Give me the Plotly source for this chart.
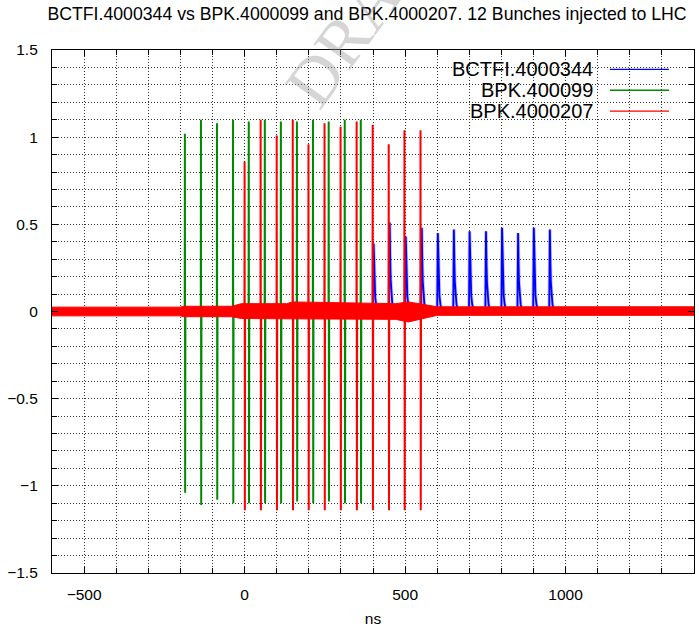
import plotly.graph_objects as go

# ---------------- data ----------------
# BPK.4000207 (red): bipolar spikes
red_t = [0, 50, 100, 150, 199, 249, 299, 349, 399, 449, 498, 548]
red_pos = [0.86, 1.10, 1.01, 1.10, 0.96, 1.08, 1.06, 1.09, 1.07, 0.96, 1.04, 1.04]
red_neg = [-1.14, -1.14, -1.14, -1.14, -1.14, -1.14, -1.14, -1.14, -1.14, -1.14, -1.14, -1.14]

# BPK.400099 (green): bipolar spikes
green_t = [-186, -136, -86, -36, 13, 63, 113, 163, 213, 262, 312, 362]
green_pos = [1.02, 1.10, 1.08, 1.10, 1.09, 1.10, 1.09, 1.09, 1.10, 1.09, 1.10, 1.10]
green_neg = [-1.04, -1.11, -1.08, -1.10, -1.10, -1.10, -1.10, -1.09, -1.10, -1.09, -1.10, -1.10]

# BCTFI.4000344 (blue): unipolar pulses
blue_t = [402, 452, 502, 552, 602, 652, 701, 752, 802, 852, 901, 951]
blue_peak = [0.38, 0.50, 0.42, 0.47, 0.44, 0.46, 0.45, 0.45, 0.47, 0.44, 0.47, 0.46]
# pulse outline (ns offset, fraction of peak)
pulse_dt = [-2, 0, 1.5, 3, 5, 8, 12]
pulse_frac = [0.0, 1.0, 0.6, 0.35, 0.18, 0.07, 0.0]

# noise band of the red trace around zero (upper / lower edge)
band_x = [-600, -200, -190, -40, -10, 130, 150, 400, 470, 510, 560, 600, 1400]
band_hi = [0.025, 0.025, 0.030, 0.030, 0.045, 0.045, 0.055, 0.050, 0.045, 0.055, 0.040, 0.027, 0.027]
band_lo = [-0.025, -0.025, -0.030, -0.030, -0.040, -0.042, -0.045, -0.045, -0.045, -0.060, -0.040, -0.022, -0.022]

x_range = [-600, 1400]
y_range = [-1.5, 1.5]

title_text = "BCTFI.4000344 vs BPK.4000099 and BPK.4000207. 12 Bunches injected to LHC"
legend_names = ["BCTFI.4000344", "BPK.400099", "BPK.4000207"]
legend_colors = ["#0000ff", "#008a00", "#ff0000"]

# ---------------- build traces ----------------
def spike_wave(times, pos, neg):
    xs, ys = [x_range[0]], [0.0]
    for t, p, n in zip(times, pos, neg):
        xs += [t - 0.5, t, t + 0.8, t + 1.6]
        ys += [0.0, p, n, 0.0]
    xs.append(x_range[1]); ys.append(0.0)
    return xs, ys

def pulse_wave(times, peaks, base=0.01):
    xs, ys = [x_range[0]], [base]
    for t, p in zip(times, peaks):
        for d, f in zip(pulse_dt, pulse_frac):
            xs.append(t + d)
            ys.append(base + f * p)
    xs.append(x_range[1]); ys.append(base)
    return xs, ys

bx, by = pulse_wave(blue_t, blue_peak)
gx, gy = spike_wave(green_t, green_pos, green_neg)
rx, ry = spike_wave(red_t, red_pos, red_neg)

fig = go.Figure()
fig.add_trace(go.Scatter(x=bx, y=by, mode="lines", line=dict(color="rgba(0,0,255,0.25)", width=3.5),
                         hoverinfo="skip", showlegend=False))
fig.add_trace(go.Scatter(x=bx, y=by, mode="lines", line=dict(color=legend_colors[0], width=1.8),
                         name=legend_names[0], showlegend=False))
fig.add_trace(go.Scatter(x=gx, y=gy, mode="lines", line=dict(color=legend_colors[1], width=2),
                         name=legend_names[1], showlegend=False))
fig.add_trace(go.Scatter(x=band_x + band_x[::-1], y=band_hi + band_lo[::-1], mode="lines",
                         fill="toself", fillcolor=legend_colors[2],
                         line=dict(color=legend_colors[2], width=1),
                         hoverinfo="skip", showlegend=False))
fig.add_trace(go.Scatter(x=rx, y=ry, mode="lines", line=dict(color=legend_colors[2], width=2),
                         name=legend_names[2], showlegend=False))

# ---------------- custom gnuplot-style key ----------------
key_y = [0.963, 0.923, 0.883]
for name, col, yy in zip(legend_names, legend_colors, key_y):
    fig.add_annotation(x=0.846, y=yy, xref="paper", yref="paper", text=name, showarrow=False,
                       xanchor="right", yanchor="middle",
                       font=dict(family="Liberation Sans, Arial, sans-serif", size=20, color="black"))
    fig.add_shape(type="line", xref="paper", yref="paper", x0=0.869, x1=0.961, y0=yy, y1=yy,
                  line=dict(color=col, width=1.3))

# watermark
fig.add_annotation(x=0.49, y=1.08, xref="paper", yref="paper", text="DRAFT", showarrow=False,
                   textangle=-54, xanchor="center", yanchor="middle",
                   font=dict(family="Liberation Serif, Times New Roman, serif", size=68,
                             color="rgba(150,150,150,0.4)"))

grid_dash = "1px,2px"
axis_common = dict(showline=True, linecolor="black", linewidth=1.2, mirror="allticks",
                   ticks="inside", ticklen=6, tickcolor="black", tickwidth=1.2,
                   showgrid=True, gridcolor="#333333", gridwidth=1, griddash=grid_dash,
                   zeroline=False,
                   tickfont=dict(family="Liberation Sans, Arial, sans-serif", size=15.5, color="black"))

fig.update_xaxes(range=x_range, tick0=0, dtick=500, ticklabelstandoff=7,
                 minor=dict(dtick=100, ticks="inside", ticklen=5, tickcolor="black",
                            showgrid=True, gridcolor="#333333", gridwidth=1, griddash=grid_dash),
                 title=dict(text="ns", standoff=11,
                            font=dict(family="Liberation Sans, Arial, sans-serif", size=15.5, color="black")),
                 **axis_common)
fig.update_yaxes(range=y_range, tick0=0, dtick=0.5, ticklabelstandoff=10,
                 minor=dict(dtick=0.1, ticks="inside", ticklen=5, tickcolor="black",
                            showgrid=True, gridcolor="#333333", gridwidth=1, griddash=grid_dash),
                 **axis_common)

fig.update_layout(
    width=699, height=637,
    margin=dict(l=52, r=5, t=50, b=64),
    paper_bgcolor="white", plot_bgcolor="white",
    showlegend=False,
    title=dict(text=title_text, x=0.525, xref="container", xanchor="center",
               y=0.978, yref="container", yanchor="middle",
               font=dict(family="Liberation Sans, Arial, sans-serif", size=17.7, color="black")),
)

fig.write_html("out.html", config={"displayModeBar": False},
               post_script="document.body.style.margin='0';document.body.style.overflow='hidden';")
